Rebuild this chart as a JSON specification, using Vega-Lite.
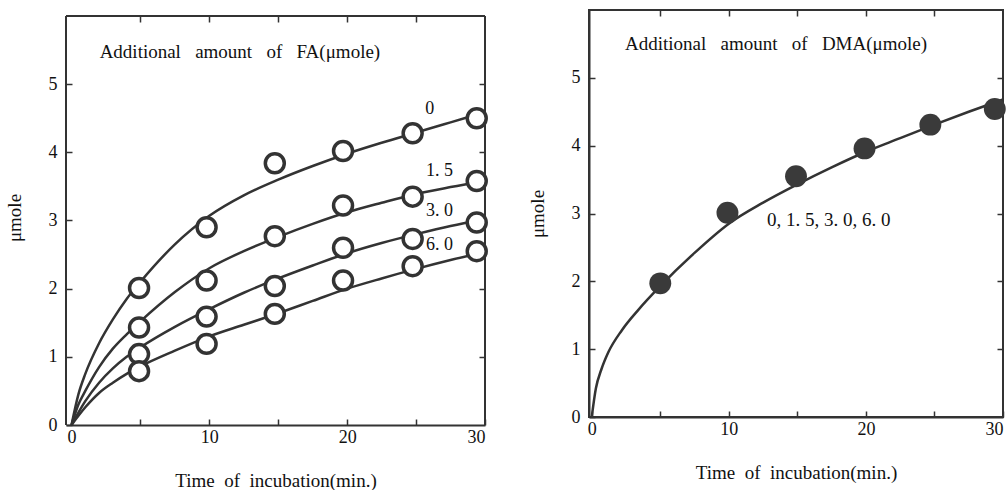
{
  "$schema": "https://vega.github.io/schema/vega-lite/v6.json",
  "background": "white",
  "padding": {"left": 5, "top": 8, "right": 0, "bottom": 0},
  "spacing": 33,
  "config": {
    "view": {"stroke": "#333", "strokeWidth": 2},
    "font": "Liberation Serif",
    "axis": {
      "grid": false,
      "domainColor": "#333",
      "domainWidth": 2,
      "tickColor": "#333",
      "tickWidth": 1.5,
      "tickSize": -6,
      "labelFont": "Liberation Serif",
      "labelFontSize": 18,
      "labelColor": "#111",
      "titleFont": "Liberation Serif",
      "titleFontSize": 19,
      "titleFontWeight": "normal",
      "titleColor": "#111"
    }
  },
  "datasets": {
    "fa_pts": [
      {"t": 4.9, "v": 2.01, "s": "0"}, {"t": 9.8, "v": 2.9, "s": "0"}, {"t": 14.75, "v": 3.84, "s": "0"}, {"t": 19.7, "v": 4.02, "s": "0"}, {"t": 24.75, "v": 4.28, "s": "0"}, {"t": 29.4, "v": 4.5, "s": "0"},
      {"t": 4.9, "v": 1.43, "s": "1.5"}, {"t": 9.8, "v": 2.12, "s": "1.5"}, {"t": 14.75, "v": 2.77, "s": "1.5"}, {"t": 19.7, "v": 3.22, "s": "1.5"}, {"t": 24.75, "v": 3.35, "s": "1.5"}, {"t": 29.4, "v": 3.58, "s": "1.5"},
      {"t": 4.9, "v": 1.04, "s": "3.0"}, {"t": 9.8, "v": 1.59, "s": "3.0"}, {"t": 14.75, "v": 2.04, "s": "3.0"}, {"t": 19.7, "v": 2.6, "s": "3.0"}, {"t": 24.75, "v": 2.73, "s": "3.0"}, {"t": 29.4, "v": 2.97, "s": "3.0"},
      {"t": 4.9, "v": 0.79, "s": "6.0"}, {"t": 9.8, "v": 1.19, "s": "6.0"}, {"t": 14.75, "v": 1.63, "s": "6.0"}, {"t": 19.7, "v": 2.12, "s": "6.0"}, {"t": 24.75, "v": 2.33, "s": "6.0"}, {"t": 29.4, "v": 2.55, "s": "6.0"}
    ],
    "fa_curve": [
      {"t": 0, "v": 0, "s": "0"}, {"t": 0.5, "v": 0.45, "s": "0"}, {"t": 1, "v": 0.75, "s": "0"}, {"t": 2, "v": 1.2, "s": "0"}, {"t": 3, "v": 1.55, "s": "0"}, {"t": 4, "v": 1.85, "s": "0"}, {"t": 5, "v": 2.1, "s": "0"}, {"t": 7.5, "v": 2.65, "s": "0"}, {"t": 10, "v": 3.07, "s": "0"}, {"t": 12.5, "v": 3.37, "s": "0"}, {"t": 15, "v": 3.6, "s": "0"}, {"t": 17.5, "v": 3.8, "s": "0"}, {"t": 20, "v": 3.98, "s": "0"}, {"t": 22.5, "v": 4.14, "s": "0"}, {"t": 25, "v": 4.29, "s": "0"}, {"t": 27.5, "v": 4.44, "s": "0"}, {"t": 30, "v": 4.59, "s": "0"},
      {"t": 0, "v": 0, "s": "1.5"}, {"t": 0.5, "v": 0.3, "s": "1.5"}, {"t": 1, "v": 0.5, "s": "1.5"}, {"t": 2, "v": 0.85, "s": "1.5"}, {"t": 3, "v": 1.12, "s": "1.5"}, {"t": 4, "v": 1.33, "s": "1.5"}, {"t": 5, "v": 1.52, "s": "1.5"}, {"t": 7.5, "v": 1.95, "s": "1.5"}, {"t": 10, "v": 2.3, "s": "1.5"}, {"t": 12.5, "v": 2.55, "s": "1.5"}, {"t": 15, "v": 2.76, "s": "1.5"}, {"t": 17.5, "v": 2.95, "s": "1.5"}, {"t": 20, "v": 3.12, "s": "1.5"}, {"t": 22.5, "v": 3.26, "s": "1.5"}, {"t": 25, "v": 3.39, "s": "1.5"}, {"t": 27.5, "v": 3.49, "s": "1.5"}, {"t": 30, "v": 3.58, "s": "1.5"},
      {"t": 0, "v": 0, "s": "3.0"}, {"t": 1, "v": 0.35, "s": "3.0"}, {"t": 2, "v": 0.62, "s": "3.0"}, {"t": 3, "v": 0.83, "s": "3.0"}, {"t": 4, "v": 1.0, "s": "3.0"}, {"t": 5, "v": 1.14, "s": "3.0"}, {"t": 7.5, "v": 1.44, "s": "3.0"}, {"t": 10, "v": 1.7, "s": "3.0"}, {"t": 12.5, "v": 1.94, "s": "3.0"}, {"t": 15, "v": 2.15, "s": "3.0"}, {"t": 17.5, "v": 2.34, "s": "3.0"}, {"t": 20, "v": 2.52, "s": "3.0"}, {"t": 22.5, "v": 2.67, "s": "3.0"}, {"t": 25, "v": 2.8, "s": "3.0"}, {"t": 27.5, "v": 2.92, "s": "3.0"}, {"t": 30, "v": 3.02, "s": "3.0"},
      {"t": 0, "v": 0, "s": "6.0"}, {"t": 1, "v": 0.26, "s": "6.0"}, {"t": 2, "v": 0.47, "s": "6.0"}, {"t": 3, "v": 0.62, "s": "6.0"}, {"t": 4, "v": 0.75, "s": "6.0"}, {"t": 5, "v": 0.86, "s": "6.0"}, {"t": 7.5, "v": 1.09, "s": "6.0"}, {"t": 10, "v": 1.3, "s": "6.0"}, {"t": 12.5, "v": 1.47, "s": "6.0"}, {"t": 15, "v": 1.64, "s": "6.0"}, {"t": 17.5, "v": 1.82, "s": "6.0"}, {"t": 20, "v": 2.0, "s": "6.0"}, {"t": 22.5, "v": 2.15, "s": "6.0"}, {"t": 25, "v": 2.29, "s": "6.0"}, {"t": 27.5, "v": 2.42, "s": "6.0"}, {"t": 30, "v": 2.54, "s": "6.0"}
    ],
    "fa_labels": [
      {"t": 26.0, "v": 4.64, "label": "0"},
      {"t": 26.7, "v": 3.73, "label": "1. 5"},
      {"t": 26.7, "v": 3.14, "label": "3. 0"},
      {"t": 26.7, "v": 2.64, "label": "6. 0"}
    ],
    "fa_head": [
      {"t": 2.04, "v": 5.47, "label": "Additional\u00a0\u00a0 amount\u00a0\u00a0 of\u00a0\u00a0 FA(μmole)"}
    ],
    "fa_vframe": [
      {"t": -0.4, "v": 0, "v2": 6}, {"t": 30, "v": 0, "v2": 6}
    ],
    "fa_hframe": [
      {"t": -0.4, "t2": 30, "v": 6}
    ],
    "dma_pts": [
      {"t": 5, "v": 1.97}, {"t": 9.9, "v": 3.01}, {"t": 14.9, "v": 3.55}, {"t": 19.9, "v": 3.96}, {"t": 24.7, "v": 4.31}, {"t": 29.4, "v": 4.54}
    ],
    "dma_curve": [
      {"t": 0, "v": 0}, {"t": 0.3, "v": 0.42}, {"t": 0.7, "v": 0.7}, {"t": 1.2, "v": 0.95}, {"t": 2.2, "v": 1.28}, {"t": 3.4, "v": 1.58}, {"t": 5, "v": 1.93}, {"t": 7.5, "v": 2.42}, {"t": 10, "v": 2.85}, {"t": 12.5, "v": 3.16}, {"t": 15, "v": 3.43}, {"t": 17.5, "v": 3.68}, {"t": 20, "v": 3.91}, {"t": 22.5, "v": 4.11}, {"t": 25, "v": 4.31}, {"t": 27.5, "v": 4.5}, {"t": 30, "v": 4.68}
    ],
    "dma_labels": [
      {"t": 12.78, "v": 2.91, "label": "0, 1. 5, 3. 0, 6. 0"},
      {"t": 2.43, "v": 5.5, "label": "Additional\u00a0\u00a0 amount\u00a0\u00a0 of\u00a0\u00a0 DMA(μmole)"}
    ]
  },
  "hconcat": [
    {
      "width": 419,
      "height": 415,
      "view": {"stroke": null},
      "layer": [
        {
          "data": {"name": "fa_vframe"},
          "mark": {"type": "rule", "stroke": "#333", "strokeWidth": 2},
          "encoding": {
            "x": {"field": "t", "type": "quantitative", "axis": null},
            "y": {"field": "v", "type": "quantitative", "axis": null},
            "y2": {"field": "v2"}
          }
        },
        {
          "data": {"name": "fa_hframe"},
          "mark": {"type": "rule", "stroke": "#333", "strokeWidth": 2},
          "encoding": {
            "x": {"field": "t", "type": "quantitative", "axis": null},
            "x2": {"field": "t2"},
            "y": {"field": "v", "type": "quantitative", "axis": null}
          }
        },
        {
          "data": {"name": "fa_curve"},
          "mark": {"type": "line", "interpolate": "monotone", "stroke": "#333", "strokeWidth": 2.5},
          "encoding": {
            "x": {"field": "t", "type": "quantitative", "scale": {"domain": [-0.4, 30], "nice": false, "zero": false},
              "axis": {"orient": "bottom", "values": [0, 5, 10, 15, 20, 25, 30], "labelExpr": "datum.value % 10 === 0 ? datum.label : ''", "labelPadding": 9, "title": "Time\u00a0 of\u00a0 incubation(min.)", "titlePadding": 25}},
            "y": {"field": "v", "type": "quantitative", "scale": {"domain": [0, 6.088], "nice": false},
              "axis": {"orient": "left", "values": [0, 1, 2, 3, 4, 5], "domain": false, "labelPadding": 15, "title": "μmole", "titlePadding": 24}},
            "detail": {"field": "s"}
          }
        },
        {
          "data": {"name": "fa_pts"},
          "mark": {"type": "point", "shape": "circle", "filled": false, "fill": "white", "fillOpacity": 1, "stroke": "#333", "strokeWidth": 3.5, "size": 360, "opacity": 1},
          "encoding": {
            "x": {"field": "t", "type": "quantitative",
              "axis": {"orient": "top", "values": [5, 10, 15, 20, 25], "labels": false, "domain": false, "title": null, "offset": -6}},
            "y": {"field": "v", "type": "quantitative",
              "axis": {"orient": "right", "values": [1, 2, 3, 4, 5], "labels": false, "domain": false, "title": null, "minExtent": 0, "maxExtent": 0}}
          }
        },
        {
          "data": {"name": "fa_labels"},
          "mark": {"type": "text", "font": "Liberation Serif", "fontSize": 18, "color": "#111", "baseline": "middle", "align": "center"},
          "encoding": {
            "x": {"field": "t", "type": "quantitative", "axis": null},
            "y": {"field": "v", "type": "quantitative", "axis": null},
            "text": {"field": "label"}
          }
        },
        {
          "data": {"name": "fa_head"},
          "mark": {"type": "text", "font": "Liberation Serif", "fontSize": 19, "color": "#111", "baseline": "middle", "align": "left"},
          "encoding": {
            "x": {"field": "t", "type": "quantitative", "axis": null},
            "y": {"field": "v", "type": "quantitative", "axis": null},
            "text": {"field": "label"}
          }
        }
      ],
      "resolve": {"axis": {"x": "independent", "y": "independent"}}
    },
    {
      "width": 414,
      "height": 407,
      "layer": [
        {
          "data": {"name": "dma_curve"},
          "mark": {"type": "line", "interpolate": "monotone", "stroke": "#333", "strokeWidth": 2.5},
          "encoding": {
            "x": {"field": "t", "type": "quantitative", "scale": {"domain": [-0.2, 30], "nice": false, "zero": false},
              "axis": {"orient": "bottom", "values": [0, 5, 10, 15, 20, 25, 30], "labelExpr": "datum.value % 10 === 0 ? datum.label : ''", "labelPadding": 9, "title": "Time\u00a0 of\u00a0 incubation(min.)", "titlePadding": 25}},
            "y": {"field": "v", "type": "quantitative", "scale": {"domain": [0, 6], "nice": false},
              "axis": {"orient": "left", "values": [0, 1, 2, 3, 4, 5], "labelPadding": 15, "title": "μmole", "titlePadding": 24}}
          }
        },
        {
          "data": {"name": "dma_pts"},
          "mark": {"type": "point", "shape": "circle", "filled": true, "fill": "#3a3a3a", "fillOpacity": 1, "strokeWidth": 0, "size": 480, "opacity": 1},
          "encoding": {
            "x": {"field": "t", "type": "quantitative",
              "axis": {"orient": "top", "values": [5, 10, 15, 20, 25], "labels": false, "domain": false, "title": null}},
            "y": {"field": "v", "type": "quantitative",
              "axis": {"orient": "right", "values": [1, 2, 3, 4, 5], "labels": false, "domain": false, "title": null, "minExtent": 0, "maxExtent": 0}}
          }
        },
        {
          "data": {"name": "dma_labels"},
          "mark": {"type": "text", "font": "Liberation Serif", "fontSize": 19, "color": "#111", "baseline": "middle", "align": "left"},
          "encoding": {
            "x": {"field": "t", "type": "quantitative", "axis": null},
            "y": {"field": "v", "type": "quantitative", "axis": null},
            "text": {"field": "label"}
          }
        }
      ],
      "resolve": {"axis": {"x": "independent", "y": "independent"}}
    }
  ]
}
